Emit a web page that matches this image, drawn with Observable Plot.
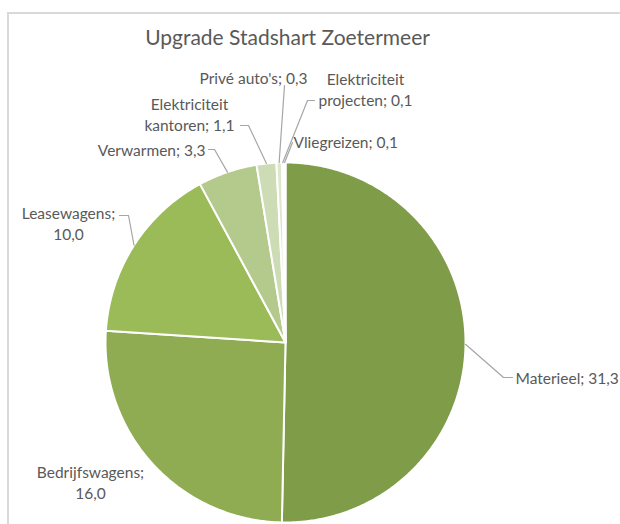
<!DOCTYPE html>
<html>
<head>
<meta charset="utf-8">
<script src="https://cdn.jsdelivr.net/npm/d3@7"></script>
<script src="https://cdn.jsdelivr.net/npm/@observablehq/plot@0.6"></script>
<style>
  html, body { margin: 0; padding: 0; background: #fff; }
  #wrap { position: relative; width: 620px; height: 524px; overflow: hidden; }
  #frame { position: absolute; left: 7px; top: 12px; right: -2px; bottom: -2px;
           border-top: 2px solid #d9d9d9; border-left: 2px solid #d9d9d9; }
  #chart { position: absolute; left: 0; top: 0; }
</style>
</head>
<body>
<div id="wrap"><div id="frame"></div><div id="chart"></div></div>
<script>
// ---- data ----
const title = "Upgrade Stadshart Zoetermeer";
const categories = ["Materieel", "Bedrijfswagens", "Leasewagens", "Verwarmen",
  "Elektriciteit kantoren", "Privé auto's", "Elektriciteit projecten", "Vliegreizen"];
const values = [31.3, 16.0, 10.0, 3.3, 1.1, 0.3, 0.1, 0.1];
const colors = ["#7f9c49", "#8fac53", "#9bbb59", "#b4ca8c", "#cddcb4", "#dde7cd", "#e8efdc", "#f0f5e8"];

// ---- layout (positions only) ----
const W = 620, H = 524;
const cx = 285, cy = 342, R = 180;
// label break: "semi" = break after "name;", "word" = after first word, null = single line
const labelLayout = [
  {brk: null,   x: 515, y: 377, anchor: "start",  leader: [[512, 377], [503, 377]]},
  {brk: "semi", x: 90,  y: 481, anchor: "middle", leader: null},
  {brk: "semi", x: 68,  y: 222, anchor: "middle", leader: [[119, 215], [128, 215]]},
  {brk: null,   x: 205, y: 149, anchor: "end",    leader: [[208, 149], [214, 149]]},
  {brk: "word", x: 189, y: 113, anchor: "middle", leader: [[240, 125], [248, 125]]},
  {brk: null,   x: 253, y: 77,  anchor: "middle", leader: [[284, 85]]},
  {brk: "word", x: 365, y: 88,  anchor: "middle", leader: [[314, 100], [307, 100]]},
  {brk: null,   x: 293, y: 141, anchor: "start",  leader: [[292, 142]]}
];

const fmt = v => d3.format(".1f")(v).replace(".", ",");
function labelText(name, v, brk) {
  if (brk === "semi") return `${name};\n${fmt(v)}`;
  if (brk === "word") { const i = name.indexOf(" "); return `${name.slice(0, i)}\n${name.slice(i + 1)}; ${fmt(v)}`; }
  return `${name}; ${fmt(v)}`;
}

const arcs = d3.pie().sort(null).value(d => d)(values);
const pt = (a, r) => [cx + r * Math.sin(a), cy - r * Math.cos(a)];

const wedgePts = [];
arcs.forEach((a, i) => {
  const name = categories[i];
  const n = Math.max(2, Math.ceil((a.endAngle - a.startAngle) / (Math.PI / 360)));
  wedgePts.push({name, x: cx, y: cy});
  for (let k = 0; k <= n; k++) {
    const t = a.startAngle + (a.endAngle - a.startAngle) * k / n;
    const [x, y] = pt(t, R);
    wedgePts.push({name, x, y});
  }
  wedgePts.push({name, x: cx, y: cy});
});

const leaderPts = [];
const labels = [];
arcs.forEach((a, i) => {
  const L = labelLayout[i];
  const name = categories[i];
  labels.push({name, x: L.x, y: L.y, anchor: L.anchor, text: labelText(name, values[i], L.brk)});
  if (L.leader) {
    L.leader.forEach(([x, y]) => leaderPts.push({name, x, y}));
    const [mx, my] = pt((a.startAngle + a.endAngle) / 2, R);
    leaderPts.push({name, x: mx, y: my});
  }
});

const font = "Lato, 'Open Sans', sans-serif";
const textMarks = ["start", "middle", "end"].map(anc =>
  Plot.text(labels.filter(d => d.anchor === anc), {
    x: "x", y: "y", text: "text", textAnchor: anc, lineAnchor: "middle",
    lineHeight: 1.4, fontSize: 15.5, fill: "#595959", fontFamily: font
  })
);

const chart = Plot.plot({
  width: W, height: H,
  margin: 0,
  x: {domain: [0, W], range: [0, W], axis: null},
  y: {domain: [0, H], range: [0, H], axis: null},
  color: {domain: categories, range: colors},
  style: {background: "transparent", fontFamily: font},
  marks: [
    Plot.line(wedgePts, {x: "x", y: "y", z: "name", fill: "name", stroke: "#ffffff",
      strokeWidth: 2, strokeLinejoin: "round", curve: "linear"}),
    Plot.line(leaderPts, {x: "x", y: "y", z: "name", stroke: "#a6a6a6", strokeWidth: 1.2, curve: "linear"}),
    ...textMarks,
    Plot.text([title], {frameAnchor: "top", dx: -23, dy: 38, text: d => d, lineAnchor: "middle",
      fontSize: 21, fill: "#595959", fontFamily: font})
  ]
});
document.getElementById("chart").appendChild(chart);
</script>
</body>
</html>
